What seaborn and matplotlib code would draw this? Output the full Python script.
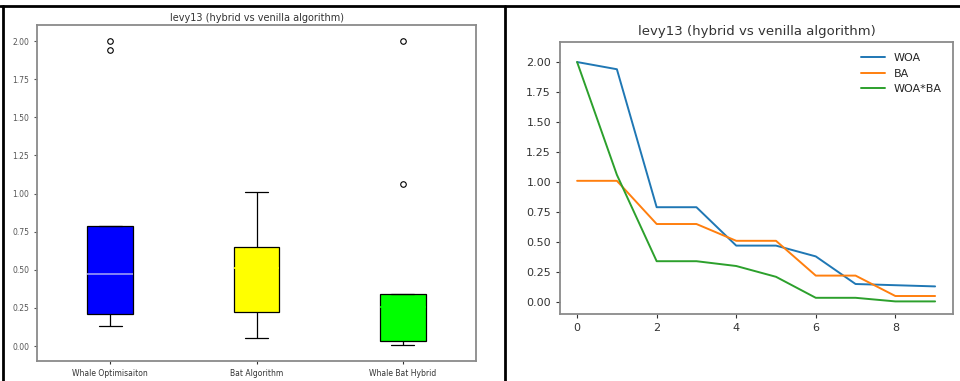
import pandas as pd
import matplotlib
matplotlib.use("Agg")
import matplotlib.pyplot as plt
import seaborn as sns
from matplotlib.lines import Line2D

# --- data ---
iterations = list(range(10))
woa = [2.00, 1.94, 0.79, 0.79, 0.47, 0.47, 0.38, 0.15, 0.14, 0.13]
ba = [1.01, 1.01, 0.65, 0.65, 0.51, 0.51, 0.22, 0.22, 0.05, 0.05]
woa_ba = [2.00, 1.06, 0.34, 0.34, 0.30, 0.21, 0.035, 0.035, 0.005, 0.005]

box_names = ["Whale Optimisaiton", "Bat Algorithm", "Whale Bat Hybrid"]
box_colors = ["blue", "yellow", "lime"]
median_colors = ["#9a9af5", "yellow", "lime"]
line_names = ["WOA", "BA", "WOA*BA"]
line_colors = ["#1f77b4", "#ff7f0e", "#2ca02c"]
title = "levy13 (hybrid vs venilla algorithm)"

series = [woa, ba, woa_ba]

box_df = pd.concat(
    [pd.DataFrame({"algo": name, "value": vals}) for name, vals in zip(box_names, series)],
    ignore_index=True,
)
line_df = pd.concat(
    [pd.DataFrame({"iter": iterations, "algo": name, "value": vals}) for name, vals in zip(line_names, series)],
    ignore_index=True,
)

sns.set_style("white")
plt.rcParams["font.family"] = ["DejaVu Sans"]

fig = plt.figure(figsize=(9.6, 3.81), dpi=100)
W, H = 960, 381


def rect(x0, y0, x1, y1):
    return [x0 / W, 1 - y1 / H, (x1 - x0) / W, (y1 - y0) / H]


# ------------------------------------------------------------
# --- boxplot (left) ---
# ------------------------------------------------------------
ax1 = fig.add_axes(rect(37, 25, 476, 361))
sns.boxplot(
    data=box_df, x="algo", y="value", hue="algo", palette=box_colors, saturation=1,
    width=0.31, linecolor="black", linewidth=0.9, legend=False, ax=ax1,
    flierprops=dict(marker="o", markerfacecolor="none", markeredgecolor="black",
                    markersize=4, markeredgewidth=0.8),
    medianprops=dict(linewidth=1.2),
)
# median line colours per box
for cont, mc in zip(ax1.containers, median_colors):
    for m in cont.medians:
        m.set_color(mc)

ax1.set_title(title, fontsize=7, color="#333333", pad=3)
ax1.set_xlabel("")
ax1.set_ylabel("")
ax1.set_ylim(-0.098, 2.105)
ax1.set_yticks([0, 0.25, 0.5, 0.75, 1.0, 1.25, 1.5, 1.75, 2.0])
ax1.set_yticklabels(["0.00", "0.25", "0.50", "0.75", "1.00", "1.25", "1.50", "1.75", "2.00"])
ax1.tick_params(axis="y", labelsize=5.5, colors="#555555", length=2, left=True)
ax1.tick_params(axis="x", labelsize=5.5, colors="#333333", length=2, bottom=True)
for s in ax1.spines.values():
    s.set_color("#8a8a8a")
    s.set_linewidth(1.3)

# ------------------------------------------------------------
# --- convergence lines (right) ---
# ------------------------------------------------------------
ax2 = fig.add_axes(rect(560, 42, 953, 314))
sns.lineplot(data=line_df, x="iter", y="value", hue="algo", palette=line_colors,
             linewidth=1.4, ax=ax2)
ax2.set_title(title, fontsize=9.5, color="#333333", pad=5)
ax2.set_xlabel("")
ax2.set_ylabel("")
ax2.set_xlim(-0.43, 9.45)
ax2.set_ylim(-0.1, 2.167)
ax2.set_xticks([0, 2, 4, 6, 8])
ax2.set_yticks([0, 0.25, 0.5, 0.75, 1.0, 1.25, 1.5, 1.75, 2.0])
ax2.set_yticklabels(["0.00", "0.25", "0.50", "0.75", "1.00", "1.25", "1.50", "1.75", "2.00"])
ax2.tick_params(labelsize=8, colors="#333333", length=3, left=True, bottom=True)
for s in ax2.spines.values():
    s.set_color("#8a8a8a")
    s.set_linewidth(1.3)
handles, labels = ax2.get_legend_handles_labels()
ax2.legend(handles, labels, loc="upper right", fontsize=8, frameon=False,
           borderaxespad=0.6, handlelength=2.2)

# screenshot borders
for xs, ys in [([0, 1], [1 - 6 / H, 1 - 6 / H]),
               ([3 / W, 3 / W], [0, 1 - 6 / H]),
               ([505 / W, 505 / W], [0, 1 - 6 / H])]:
    fig.add_artist(Line2D(xs, ys, transform=fig.transFigure, color="black", linewidth=2))

fig.savefig("out.png", dpi=100)
